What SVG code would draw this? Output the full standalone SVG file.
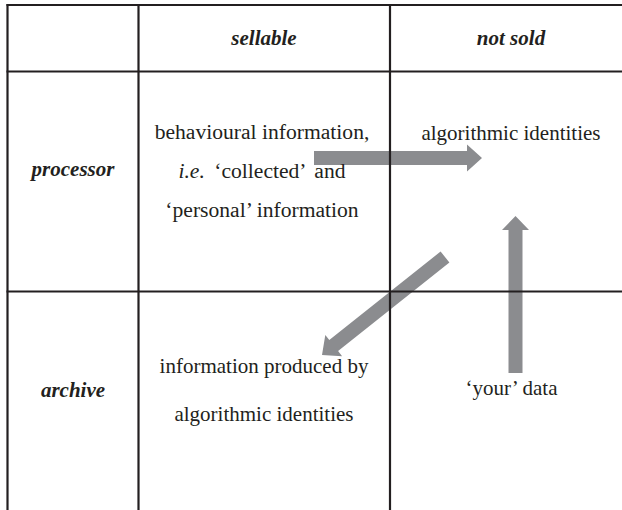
<svg xmlns="http://www.w3.org/2000/svg" width="622" height="510" viewBox="0 0 622 510">
<style>
.t{font-family:"Liberation Serif","Times New Roman",serif;font-size:21px;fill:#231f20;text-anchor:middle}
.h{font-weight:bold;font-style:italic}
.b{font-size:21.6px}
.g line{stroke:#231f20;stroke-width:2.2}
.a{fill:#8b8c8f}
</style>
<rect width="622" height="510" fill="#fff"/>
<g id="connectors">
<polygon class="a" points="314,151 467,151 467,144.5 482,158 467,171.5 467,165 314,165"/>
<polygon class="a" points="508.5,373 508.5,230 502,230 515.5,216 529,230 522.5,230 522.5,373"/>
<polygon class="a" points="440.6,251.5 449.4,262.5 338.1,351.1 342.1,356.2 322,355 325.3,335 329.3,340.1"/>
</g>
<g id="grid" class="g">
<line x1="6.5" y1="5" x2="622" y2="5"/>
<line x1="6.5" y1="71.5" x2="622" y2="71.5"/>
<line x1="6.5" y1="291.5" x2="622" y2="291.5"/>
<line x1="7.5" y1="4" x2="7.5" y2="510"/>
<line x1="138.5" y1="4" x2="138.5" y2="510"/>
<line x1="390" y1="4" x2="390" y2="510"/>
</g>
<g id="head-sellable"><text class="t h" x="264" y="45">sellable</text></g>
<g id="head-notsold"><text class="t h" x="511" y="45">not sold</text></g>
<g id="row-processor"><text class="t h" x="73" y="176">processor</text></g>
<g id="row-archive"><text class="t h" x="73" y="397">archive</text></g>
<g id="behavioural">
<text class="t b" x="262" y="139">behavioural information,</text>
<text class="t b" x="262" y="178" word-spacing="4"><tspan font-style="italic">i.e.</tspan> ‘collected’ and</text>
<text class="t b" x="262" y="217">‘personal’ information</text>
</g>
<g id="algorithmic"><text class="t" x="511" y="140">algorithmic identities</text></g>
<g id="produced">
<text class="t" x="264" y="373">information produced by</text>
<text class="t" x="264" y="421">algorithmic identities</text>
</g>
<g id="yourdata"><text class="t" x="511.5" y="395">‘your’ data</text></g>
</svg>
